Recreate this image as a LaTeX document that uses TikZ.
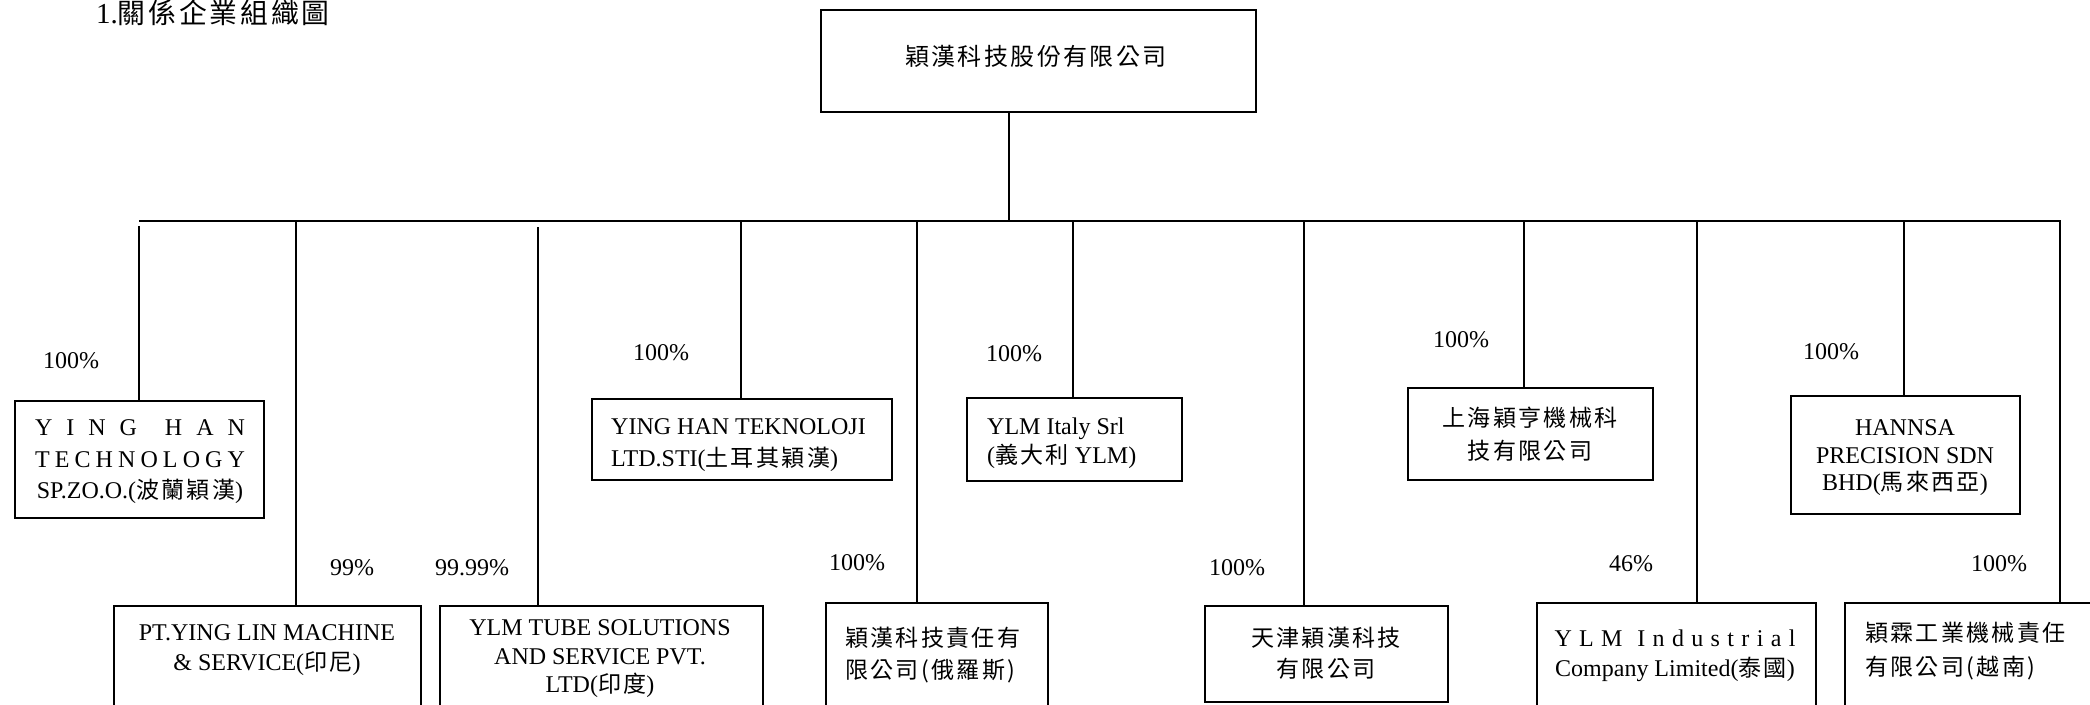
\documentclass[tikz,border=0pt]{standalone}
\usepackage{fontspec}
\setmainfont{Liberation Serif}
\newfontfamily\cjkf[Scale=0.96,LetterSpace=10]{Noto Sans CJK TC}
\newcommand\cj[1]{{\cjkf #1}}
\begin{document}
\begin{tikzpicture}[x=1pt,y=-1pt,
  box/.style={draw, line width=2pt, inner sep=0pt, anchor=north west, rectangle},
  txt/.style={inner sep=0pt, align=center},
  txtl/.style={inner sep=0pt, align=left, anchor=west},
  pct/.style={inner sep=0pt, font=\fontsize{24}{28}\selectfont},
  conn/.style={line width=1.6pt},
  bus/.style={line width=2.8pt}]
\useasboundingbox (0,0) rectangle (2090,704);
% title
\node[inner sep=0pt, anchor=west, font=\fontsize{29}{32}\selectfont] (title) at (96,13) {1.\cj{關係企業組織圖}};
% boxes
\node[box, minimum width=435pt, minimum height=102pt] (T) at (820,9) {};
\node[box, minimum width=249pt, minimum height=117pt] (A) at (14,400) {};
\node[box, minimum width=307pt, minimum height=200pt] (B) at (113,605) {};
\node[box, minimum width=323pt, minimum height=200pt] (C) at (439,605) {};
\node[box, minimum width=300pt, minimum height=81pt] (D) at (591,398) {};
\node[box, minimum width=222pt, minimum height=200pt] (F) at (825,602) {};
\node[box, minimum width=215pt, minimum height=83pt] (E) at (966,397) {};
\node[box, minimum width=243pt, minimum height=96pt] (G) at (1204,605) {};
\node[box, minimum width=245pt, minimum height=92pt] (H) at (1407,387) {};
\node[box, minimum width=279pt, minimum height=200pt] (I) at (1536,602) {};
\node[box, minimum width=229pt, minimum height=118pt] (J) at (1790,395) {};
\node[box, minimum width=300pt, minimum height=200pt] (K) at (1844,602) {};
% texts
\node[txt, font=\fontsize{25}{30}\selectfont] (Tt) at (1036,56) {\cj{穎漢科技股份有限公司}};
\node[txt, font=\fontsize{24}{31.5}\selectfont] (At) at (140,462) {\makebox[210pt][s]{Y I N G\ \ H A N}\\ \makebox[210pt][s]{T E C H N O L O G Y}\\ SP.ZO.O.(\cj{波蘭穎漢})};
\node[txt, font=\fontsize{24}{30}\selectfont] (Bt) at (267,650) {PT.YING LIN MACHINE\\ \& SERVICE(\cj{印尼})};
\node[txt, font=\fontsize{24}{28.5}\selectfont] (Ct) at (600,659) {YLM TUBE SOLUTIONS\\ AND SERVICE PVT.\\ LTD(\cj{印度})};
\node[txtl, font=\fontsize{24}{32}\selectfont] (Dt) at (611,445) {YING HAN TEKNOLOJI\\ LTD.STI(\cj{土耳其穎漢})};
\node[txtl, font=\fontsize{24}{29}\selectfont] (Et) at (987,443) {YLM Italy Srl\\ (\cj{義大利} YLM)};
\node[txtl, font=\fontsize{24}{32}\selectfont] (Ft) at (845,655) {\cj{穎漢科技責任有}\\ \cj{限公司(俄羅斯)}};
\node[txt, font=\fontsize{24}{31}\selectfont] (Gt) at (1326,653) {\cj{天津穎漢科技}\\ \cj{有限公司}};
\node[txt, font=\fontsize{24}{33}\selectfont] (Ht) at (1530,434) {\cj{上海穎亨機械科}\\ \cj{技有限公司}};
\node[txt, font=\fontsize{24}{30}\selectfont] (It) at (1675,656) {\makebox[241pt][s]{Y L M\ \ I n d u s t r i a l}\\ Company Limited(\cj{泰國})};
\node[txt, font=\fontsize{24}{27.5}\selectfont] (Jt) at (1905,458) {HANNSA\\ PRECISION SDN\\ BHD(\cj{馬來西亞})};
\node[txtl, font=\fontsize{24}{34}\selectfont] (Kt) at (1865,651) {\cj{穎霖工業機械責任}\\ \cj{有限公司(越南)}};
% bus
\coordinate (hl) at (139,221);
\coordinate (hr) at (2061,221);
\draw[bus] (hl) -- (hr);
\coordinate (tj) at (1009,221);
\draw[conn] (tj |- T.south) -- (tj);
% branches
\coordinate (j1) at (139,226);
\coordinate (j2) at (296,221);
\coordinate (j3) at (538,227);
\coordinate (j4) at (741,221);
\coordinate (j5) at (917,221);
\coordinate (j6) at (1073,221);
\coordinate (j7) at (1304,221);
\coordinate (j8) at (1524,221);
\coordinate (j9) at (1697,221);
\coordinate (j10) at (1904,221);
\coordinate (j11) at (2060,221);
\draw[conn] (j1) -- (j1 |- A.north);
\draw[conn] (j2) -- (j2 |- B.north);
\draw[conn] (j3) -- (j3 |- C.north);
\draw[conn] (j4) -- (j4 |- D.north);
\draw[conn] (j5) -- (j5 |- F.north);
\draw[conn] (j6) -- (j6 |- E.north);
\draw[conn] (j7) -- (j7 |- G.north);
\draw[conn] (j8) -- (j8 |- H.north);
\draw[conn] (j9) -- (j9 |- I.north);
\draw[conn] (j10) -- (j10 |- J.north);
\draw[conn] (j11) -- (j11 |- K.north);
% percentages
\node[pct] (p1) at (71,361) {100\%};
\node[pct] (p2) at (352,568) {99\%};
\node[pct] (p3) at (472,568) {99.99\%};
\node[pct] (p4) at (661,353) {100\%};
\node[pct] (p5) at (857,563) {100\%};
\node[pct] (p6) at (1014,354) {100\%};
\node[pct] (p7) at (1237,568) {100\%};
\node[pct] (p8) at (1461,340) {100\%};
\node[pct] (p9) at (1631,564) {46\%};
\node[pct] (p10) at (1831,352) {100\%};
\node[pct] (p11) at (1999,564) {100\%};
\end{tikzpicture}
\end{document}
